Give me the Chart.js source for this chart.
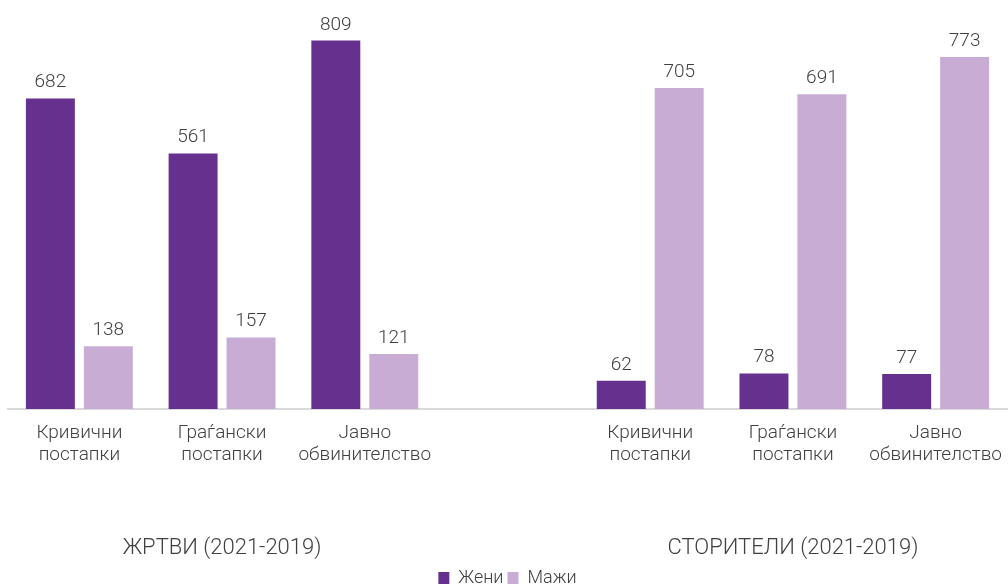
<!DOCTYPE html>
<html>
<head>
<meta charset="utf-8">
<script src="https://cdn.jsdelivr.net/npm/chart.js@4/dist/chart.umd.min.js"></script>
<style>
html,body{margin:0;padding:0;background:#fff;}
#wrap{width:1008px;height:588px;position:relative;}
</style>
</head>
<body>
<div id="wrap"><canvas id="c" width="1008" height="588"></canvas></div>
<script>
const categories = [
  ['Кривични', 'постапки'],
  ['Граѓански', 'постапки'],
  ['Јавно', 'обвинителство'],
  '',
  ['Кривични', 'постапки'],
  ['Граѓански', 'постапки'],
  ['Јавно', 'обвинителство']
];
const groupLabels = ['', 'ЖРТВИ (2021-2019)', '', '', '', 'СТОРИТЕЛИ (2021-2019)', ''];
const zeni = [682, 561, 809, null, 62, 78, 77];
const mazi = [138, 157, 121, null, 705, 691, 773];
const seriesNames = ['Жени', 'Мажи'];

const FONT = 'Roboto, "Noto Sans", sans-serif';
const TEXT = '#404040';

const valueLabels = {
  id: 'valueLabels',
  afterDatasetsDraw(chart) {
    const ctx = chart.ctx;
    ctx.save();
    ctx.font = '300 19px ' + FONT;
    ctx.fillStyle = TEXT;
    ctx.textAlign = 'center';
    ctx.textBaseline = 'alphabetic';
    chart.data.datasets.forEach((ds, i) => {
      const meta = chart.getDatasetMeta(i);
      meta.data.forEach((bar, j) => {
        const v = ds.data[j];
        if (v === null || v === undefined) return;
        ctx.fillText(String(v), bar.x, bar.y - 11);
      });
    });
    ctx.restore();
  }
};

new Chart(document.getElementById('c'), {
  type: 'bar',
  data: {
    labels: categories,
    datasets: [
      { label: seriesNames[0], data: zeni, backgroundColor: '#66308E', categoryPercentage: 0.812, barPercentage: 0.845 },
      { label: seriesNames[1], data: mazi, backgroundColor: '#C8ACD4', categoryPercentage: 0.812, barPercentage: 0.845 }
    ]
  },
  options: {
    responsive: false,
    animation: false,
    devicePixelRatio: 1,
    layout: { padding: { left: 8, right: 1, top: 0, bottom: -9 } },
    scales: {
      y: { display: false, min: 0, max: 898 },
      x: {
        grid: { display: false, drawTicks: false },
        border: { display: true, color: '#D9D9D9', width: 2 },
        ticks: { color: TEXT, font: { family: FONT, size: 19, weight: 300, lineHeight: '22px' }, padding: 13, maxRotation: 0, autoSkip: false },
        afterFit(scale) { scale.height = 70; scale.paddingLeft = 0; scale.paddingRight = 0; }
      },
      x2: {
        type: 'category',
        labels: groupLabels,
        position: 'bottom',
        grid: { display: false, drawTicks: false },
        border: { display: false },
        ticks: { color: TEXT, font: { family: FONT, size: 22, weight: 300, lineHeight: 1.2 }, padding: 56, maxRotation: 0, autoSkip: false },
        afterFit(scale) { scale.height = 86; scale.paddingLeft = 0; scale.paddingRight = 0; }
      }
    },
    plugins: {
      legend: {
        position: 'bottom',
        labels: { color: TEXT, font: { family: FONT, size: 18, weight: 300 }, boxWidth: 11, boxHeight: 12, padding: 4 }
      },
      tooltip: { enabled: false }
    }
  },
  plugins: [valueLabels]
});
</script>
</body>
</html>
